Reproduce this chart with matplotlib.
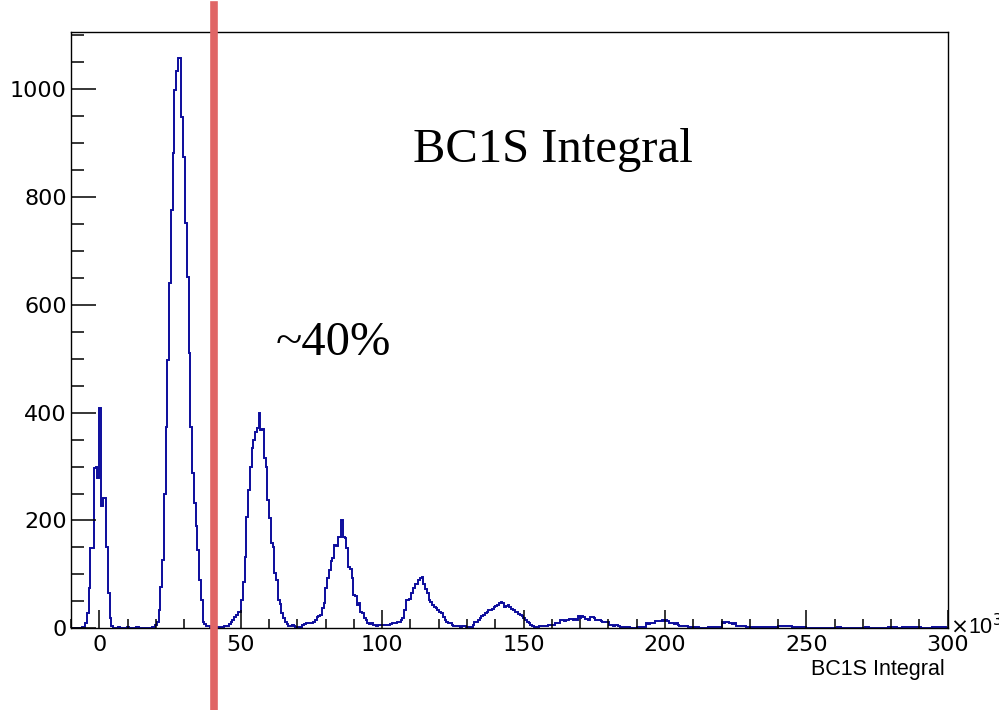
import matplotlib
matplotlib.use("Agg")
import matplotlib.pyplot as plt
from matplotlib.ticker import MultipleLocator
import numpy as np

# histogram: 500 bins from -10 to 300 (x 10^3), counts
x_lo, x_hi, n_bins = -10, 300, 500

counts_000 = [0, 0, 0, 0, 0, 0, 2, 3, 10, 28, 75, 149, 149, 297, 300, 278, 408, 226, 241, 241,
              151, 65, 19, 5, 1, 0, 0, 2, 0, 0, 0, 0, 2, 0, 0, 0, 0, 2, 2, 0,
              0, 0, 0, 0, 0, 1, 3, 2, 6, 12]
counts_050 = [34, 77, 127, 250, 374, 498, 640, 776, 881, 999, 1033, 1057, 1057, 949, 875, 751, 652, 510, 374, 288,
              232, 189, 145, 90, 52, 12, 8, 5, 4, 2, 0, 2, 0, 3, 2, 0, 3, 4, 4, 5,
              8, 12, 15, 20, 25, 31, 31, 52, 86, 133]
counts_100 = [207, 257, 300, 334, 350, 365, 371, 399, 368, 370, 315, 300, 238, 204, 158, 150, 102, 90, 52, 45,
              29, 19, 12, 8, 4, 5, 6, 4, 2, 1, 2, 1, 6, 8, 9, 10, 9, 10, 12, 15,
              20, 22, 25, 37, 46, 74, 93, 108, 124, 130]
counts_150 = [155, 152, 170, 170, 201, 170, 168, 149, 114, 110, 93, 62, 60, 43, 46, 31, 28, 19, 15, 9,
              8, 10, 6, 6, 5, 6, 7, 6, 6, 6, 7, 6, 8, 9, 9, 10, 11, 11, 15, 19,
              33, 52, 52, 55, 65, 74, 83, 83, 90, 94]
counts_200 = [96, 83, 72, 65, 52, 48, 43, 40, 37, 33, 30, 28, 20, 15, 12, 10, 9, 7, 5, 4,
              4, 4, 3, 4, 4, 2, 2, 2, 2, 6, 11, 11, 15, 19, 22, 25, 28, 31, 33, 34,
              36, 40, 42, 44, 46, 49, 47, 40, 42, 43]
counts_250 = [40, 36, 34, 30, 30, 27, 25, 22, 19, 15, 12, 9, 7, 5, 3, 3, 3, 4, 4, 4,
              4, 4, 7, 7, 7, 7, 9, 9, 9, 15, 15, 14, 15, 16, 18, 17, 15, 18, 16, 22,
              19, 22, 20, 17, 17, 16, 20, 20, 19, 15]
counts_300 = [15, 15, 14, 12, 12, 11, 12, 6, 6, 5, 6, 6, 4, 3, 3, 2, 3, 3, 3, 1,
              1, 1, 1, 3, 3, 3, 3, 3, 9, 8, 9, 10, 9, 14, 13, 14, 14, 15, 14, 15,
              13, 9, 10, 9, 8, 9, 7, 5, 5, 5]
counts_350 = [4, 5, 2, 2, 2, 1, 2, 2, 0, 0, 0, 0, 0, 2, 2, 2, 2, 2, 2, 2,
              2, 12, 10, 12, 11, 9, 9, 8, 9, 5, 5, 4, 5, 5, 4, 2, 2, 2, 2, 2,
              2, 2, 2, 2, 2, 2, 2, 2, 2, 2]
counts_400 = [2, 2, 2, 5, 5, 4, 5, 5, 5, 5, 4, 3, 3, 3, 3, 3, 2, 3, 3, 1,
              1, 1, 1, 0, 1, 1, 0, 0, 0, 0, 0, 0, 0, 0, 0, 0, 0, 2, 2, 0,
              0, 0, 0, 0, 0, 0, 0, 0, 0, 0]
counts_450 = [0, 0, 0, 3, 3, 0, 0, 0, 0, 0, 0, 0, 0, 0, 0, 0, 2, 2, 2, 2,
              2, 0, 0, 0, 2, 2, 2, 2, 2, 2, 2, 2, 2, 2, 2, 0, 0, 0, 0, 0,
              0, 2, 2, 2, 2, 2, 2, 2, 2, 0]

cut_value = 40.5
title_text = "BC1S Integral"
note_text = "~40%"

counts = np.array(counts_000 + counts_050 + counts_100 + counts_150 + counts_200
                  + counts_250 + counts_300 + counts_350 + counts_400 + counts_450)
edges = np.linspace(x_lo, x_hi, n_bins + 1)

fig = plt.figure(figsize=(9.99, 7.10), dpi=100)
ax = fig.add_axes([0.0711, 0.1151, 0.8776, 0.8398])

ax.stairs(counts, edges, color='#0c0c9c', lw=1.4)
ax.set_xlim(x_lo, x_hi)
ax.set_ylim(0, 1106)

# ROOT-like ticks: inside, only on left/bottom
ax.xaxis.set_major_locator(MultipleLocator(50))
ax.xaxis.set_minor_locator(MultipleLocator(10))
ax.yaxis.set_major_locator(MultipleLocator(200))
ax.yaxis.set_minor_locator(MultipleLocator(50))
ax.tick_params(axis='x', which='major', direction='in', length=13, width=1.1, pad=5,
               labelsize=16)
ax.tick_params(axis='x', which='minor', direction='in', length=6.5, width=1.1)
ax.tick_params(axis='y', which='major', direction='in', length=18, width=1.1, pad=3,
               labelsize=16)
ax.tick_params(axis='y', which='minor', direction='in', length=9, width=1.1)
for lab in ax.get_xticklabels() + ax.get_yticklabels():
    lab.set_family('DejaVu Sans')
for sp in ax.spines.values():
    sp.set_linewidth(1.0)

fig.text(0.946, 0.057, title_text, ha='right', va='center', fontsize=15.5,
         family='Liberation Sans')
fig.text(0.951, 0.118, r'$\times$10$^{3}$', ha='left', va='center', fontsize=15.5,
         family='Liberation Sans')

# cut line
ax.axvline(cut_value, ymin=-0.137, ymax=1.045, color='#e06666', lw=5.5,
           clip_on=False, zorder=5)

fig.text(413 / 999, 1 - 162 / 710, title_text, fontsize=35, family='Liberation Serif',
         ha='left', va='baseline')
fig.text(276 / 999, 1 - 355 / 710, note_text, fontsize=35, family='Liberation Serif',
         ha='left', va='baseline')

fig.savefig('out.png', dpi=100)
